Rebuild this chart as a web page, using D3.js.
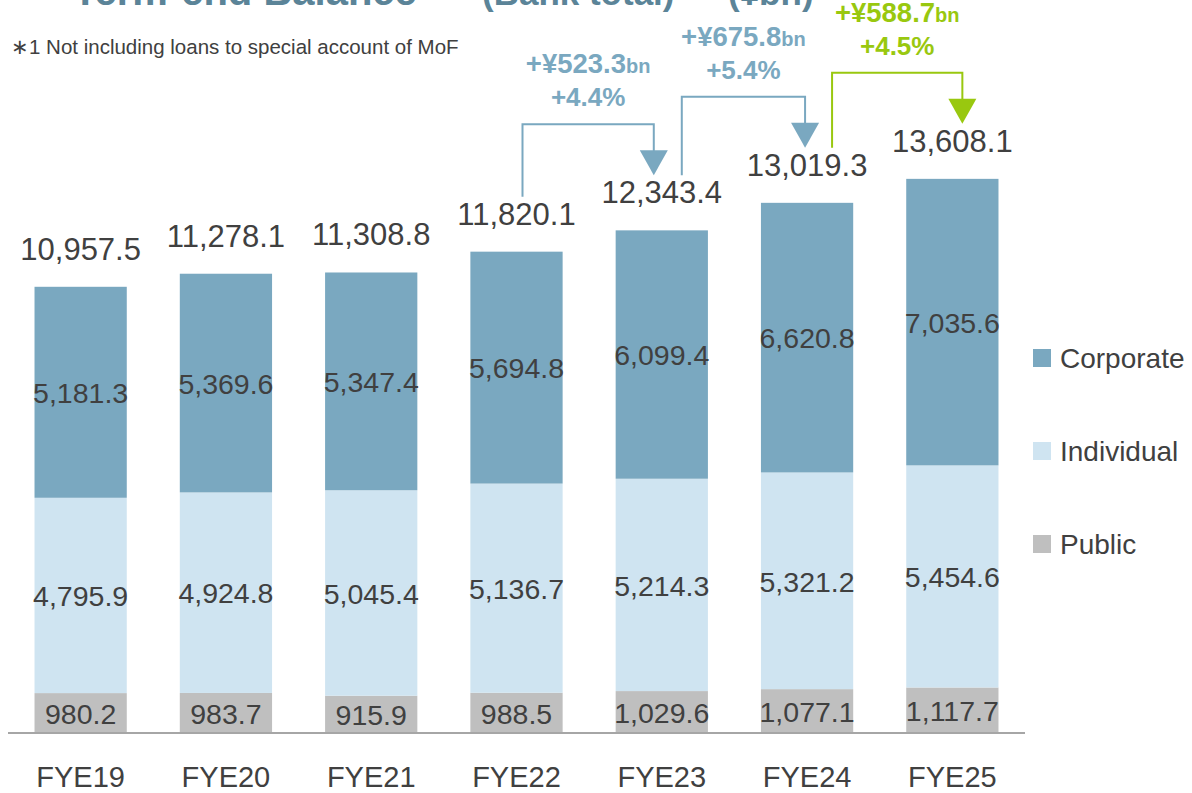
<!DOCTYPE html>
<meta charset="utf-8">
<head>
    <script src="https://cdn.jsdelivr.net/npm/d3@7"></script>
    <style>
        body { margin: 0; background: white; font-family: "Liberation Sans", Arial, sans-serif; }
        text { fill: #404040; }
    </style>
</head>
<body>
<div id="my_dataviz"></div>
<script>
    // data (¥bn)
    const years = ["FYE19", "FYE20", "FYE21", "FYE22", "FYE23", "FYE24", "FYE25"];
    const publicVals = [980.2, 983.7, 915.9, 988.5, 1029.6, 1077.1, 1117.7];
    const individualVals = [4795.9, 4924.8, 5045.4, 5136.7, 5214.3, 5321.2, 5454.6];
    const corporateVals = [5181.3, 5369.6, 5347.4, 5694.8, 6099.4, 6620.8, 7035.6];
    const totals = [10957.5, 11278.1, 11308.8, 11820.1, 12343.4, 13019.3, 13608.1];

    // growth callouts between consecutive years
    const growthFrom = ["FYE22", "FYE23", "FYE24"];
    const growthTo = ["FYE23", "FYE24", "FYE25"];
    const growthAmount = ["+¥523.3", "+¥675.8", "+¥588.7"];
    const growthPct = ["+4.4%", "+5.4%", "+4.5%"];

    const seriesNames = ["Public", "Individual", "Corporate"];
    const colors = { Corporate: "#7aa8c0", Individual: "#cfe4f1", Public: "#bfbfbf" };
    const arrowColors = ["#7aa8c0", "#7aa8c0", "#99c80f"];

    var width = 1192, height = 793;
    var svg = d3.select("#my_dataviz").append("svg")
        .attr("width", width)
        .attr("height", height);

    var x = d3.scaleBand()
        .domain(years)
        .range([8, 1025])
        .paddingInner(0.365)
        .paddingOuter(0.1825);

    var y = d3.scaleLinear()
        .domain([0, 18000])
        .range([733, 0]);

    // stack
    var rows = years.map(function(yr, i) {
        return { year: yr, Public: publicVals[i], Individual: individualVals[i], Corporate: corporateVals[i] };
    });
    var stacked = d3.stack().keys(seriesNames)(rows);

    var layers = svg.append("g").selectAll("g")
        .data(stacked)
        .enter().append("g")
        .attr("fill", function(d) { return colors[d.key]; });

    layers.selectAll("rect")
        .data(function(d) { return d; })
        .enter().append("rect")
        .attr("x", function(d) { return x(d.data.year); })
        .attr("y", function(d) { return y(d[1]); })
        .attr("width", x.bandwidth())
        .attr("height", function(d) { return y(d[0]) - y(d[1]); });

    layers.selectAll("text")
        .data(function(d) { return d; })
        .enter().append("text")
        .attr("x", function(d) { return x(d.data.year) + x.bandwidth() / 2; })
        .attr("y", function(d) { return (y(d[0]) + y(d[1])) / 2; })
        .attr("dy", "0.38em")
        .attr("text-anchor", "middle")
        .style("font-size", "28.5px")
        .text(function(d) { return d3.format(",.1f")(d[1] - d[0]); });

    // axis baseline
    svg.append("line")
        .attr("x1", x.range()[0]).attr("x2", x.range()[1])
        .attr("y1", y(0)).attr("y2", y(0))
        .attr("stroke", "#a6a6a6")
        .attr("stroke-width", 2);

    // category labels
    svg.append("g").selectAll("text")
        .data(years)
        .enter().append("text")
        .attr("x", function(d) { return x(d) + x.bandwidth() / 2; })
        .attr("y", 787)
        .attr("text-anchor", "middle")
        .style("font-size", "29px")
        .text(function(d) { return d; });

    // totals
    svg.append("g").selectAll("text")
        .data(totals)
        .enter().append("text")
        .attr("x", function(d, i) { return x(years[i]) + x.bandwidth() / 2; })
        .attr("y", function(d) { return y(d) - 27; })
        .attr("text-anchor", "middle")
        .style("font-size", "31px")
        .text(function(d) { return d3.format(",.1f")(d); });

    // growth arrows
    var startOffsets = [6, 20, 25];
    var endOffsets = [-8, -2, 10];
    growthFrom.forEach(function(from, i) {
        var col = arrowColors[i];
        var fi = years.indexOf(from), ti = years.indexOf(growthTo[i]);
        var x0 = x(from) + x.bandwidth() / 2 + startOffsets[i];
        var x1 = x(growthTo[i]) + x.bandwidth() / 2 + endOffsets[i];
        var y0 = y(totals[fi]) - 55;
        var tip = y(totals[ti]) - 55;
        var level = tip - 51;
        var g = svg.append("g");
        g.append("path")
            .attr("d", "M" + x0 + "," + y0 + "V" + level + "H" + x1 + "V" + (tip - 22))
            .attr("fill", "none")
            .attr("stroke", col)
            .attr("stroke-width", 2);
        g.append("path")
            .attr("d", "M" + (x1 - 14) + "," + (tip - 25) + "L" + (x1 + 14) + "," + (tip - 25) + "L" + x1 + "," + tip + "Z")
            .attr("fill", col);
        var cx = (x0 + x1) / 2;
        var t1 = g.append("text")
            .attr("x", cx).attr("y", level - 51)
            .attr("text-anchor", "middle")
            .style("font-weight", "bold")
            .style("font-size", "27.5px")
            .style("fill", col);
        t1.append("tspan").text(growthAmount[i]);
        t1.append("tspan").style("font-size", "20px").text("bn");
        g.append("text")
            .attr("x", cx).attr("y", level - 18)
            .attr("text-anchor", "middle")
            .style("font-weight", "bold")
            .style("font-size", "26px")
            .style("fill", col)
            .text(growthPct[i]);
    });

    // legend
    var legend = svg.append("g").selectAll("g")
        .data(["Corporate", "Individual", "Public"])
        .enter().append("g")
        .attr("transform", function(d, i) { return "translate(1033," + (358 + i * 93) + ")"; });
    legend.append("rect")
        .attr("y", -9).attr("width", 18).attr("height", 18)
        .attr("fill", function(d) { return colors[d]; });
    legend.append("text")
        .attr("x", 27).attr("dy", "0.36em")
        .style("font-size", "28px")
        .text(function(d) { return d; });

    // title (cut off at the top of the slide)
    var title = svg.append("text")
        .attr("y", 5)
        .style("font-weight", "bold")
        .style("font-size", "40px")
        .style("fill", "#5b8498");
    title.append("tspan").attr("x", 73).text("Term-end Balance");
    title.append("tspan").attr("dy", -16).style("font-size", "20px").text(" *1");
    title.append("tspan").attr("x", 482).attr("dy", 16).style("font-size", "35px").text("(Bank total)");
    title.append("tspan").attr("dy", -16).style("font-size", "20px").text(" *2");
    title.append("tspan").attr("x", 728).attr("dy", 16).style("font-size", "35px").text("(¥bn)");

    // footnote
    svg.append("text")
        .attr("x", 11).attr("y", 54)
        .style("font-size", "20.5px")
        .text("∗1 Not including loans to special account of MoF");
</script>
</body>
